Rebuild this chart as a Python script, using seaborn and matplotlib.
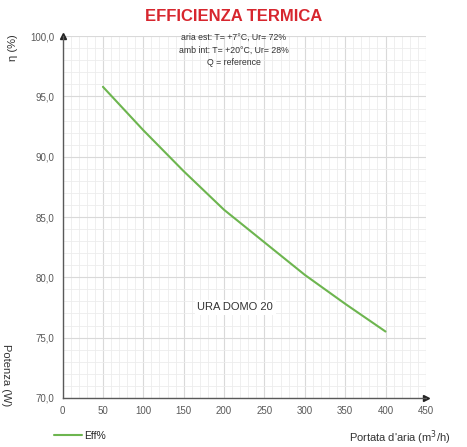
import matplotlib
matplotlib.use("Agg")
import matplotlib.pyplot as plt
import seaborn as sns
import pandas as pd
from matplotlib.ticker import MultipleLocator, FuncFormatter

# data
portata = [50, 100, 150, 200, 250, 300, 350, 400]
efficienza = [95.8, 92.2, 88.8, 85.6, 82.9, 80.2, 77.8, 75.5]
x_ticks = [0, 50, 100, 150, 200, 250, 300, 350, 400, 450]
y_ticks = [70, 75, 80, 85, 90, 95, 100]

df = pd.DataFrame({"Portata": portata, "Eff%": efficienza})

sns.set_style("whitegrid")
plt.rcParams["font.family"] = ["Liberation Sans Narrow", "Liberation Sans", "DejaVu Sans"]

GREEN = "#6db54f"
GREY_TXT = "#595959"

fig = plt.figure(figsize=(4.67, 4.47), dpi=100)
ax = fig.add_axes([0.134, 0.110, 0.778, 0.809])

sns.lineplot(data=df, x="Portata", y="Eff%", ax=ax, color=GREEN, linewidth=1.5,
             label="Eff%")

ax.set_xlim(0, 450)
ax.set_ylim(70, 100)
ax.set_xticks(x_ticks)
ax.set_yticks(y_ticks)
ax.xaxis.set_minor_locator(MultipleLocator(10))
ax.yaxis.set_minor_locator(MultipleLocator(1))
ax.yaxis.set_major_formatter(FuncFormatter(lambda v, _: f"{v:.1f}".replace(".", ",")))
ax.grid(which="major", color="#d9d9d9", linewidth=0.8)
ax.grid(which="minor", color="#ececec", linewidth=0.6)
ax.set_axisbelow(True)
ax.tick_params(axis="both", which="both", length=0, labelsize=7, colors=GREY_TXT, pad=6)
ax.set_xlabel("")
ax.set_ylabel("")

for side in ["top", "right"]:
    ax.spines[side].set_visible(False)
for side in ["left", "bottom"]:
    ax.spines[side].set_color(GREY_TXT)
    ax.spines[side].set_linewidth(1.0)
ax.plot(0, 1, "^", color="#222222", markersize=4, transform=ax.transAxes, clip_on=False)
ax.plot(1, 0, ">", color="#222222", markersize=4, transform=ax.transAxes, clip_on=False)

leg = ax.legend(loc="upper left", bbox_to_anchor=(-0.05, -0.065), frameon=False,
                fontsize=7.5, handlelength=2.7, handletextpad=0.2)

fig.text(0.5, 0.962, "EFFICIENZA TERMICA", ha="center", va="center",
         color="#d7262e", fontsize=12, fontweight="bold")
fig.text(0.5, 0.926, "aria est: T= +7°C, Ur= 72%\namb int: T= +20°C, Ur= 28%\nQ = reference",
         ha="center", va="top", fontsize=6.3, color="#333333", linespacing=1.5)
fig.text(0.027, 0.893, "η (%)", rotation=90, ha="center", va="center",
         fontsize=8, color="#333333")
fig.text(0.012, 0.160, "Potenza (W)", rotation=-90, ha="center", va="center",
         fontsize=8, color="#333333")
fig.text(0.965, 0.020, "Portata d'aria (m$^3$/h)", ha="right", va="center",
         fontsize=8, color="#333333")
ax.text(214, 77.5, "URA DOMO 20", ha="center", va="center", fontsize=8,
        color="#333333", bbox=dict(facecolor="white", edgecolor="none", pad=2))

fig.savefig("out.png", dpi=100)
